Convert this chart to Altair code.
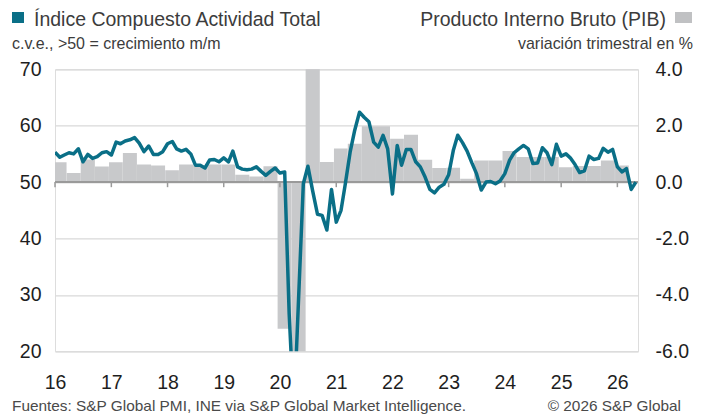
import altair as alt
import pandas as pd

# ---------------- data ----------------
years = list(range(2016, 2027))

pmi_2016 = [55.3, 54.4, 54.8, 55.2, 55.0, 55.9, 53.6, 54.9, 54.2, 54.5, 55.2, 55.4]
pmi_2017 = [54.8, 57.1, 56.8, 57.3, 57.5, 57.9, 56.9, 55.4, 56.4, 54.9, 54.9, 55.4]
pmi_2018 = [56.8, 57.2, 55.9, 55.5, 55.8, 55.0, 53.0, 53.0, 52.5, 53.9, 54.0, 53.6]
pmi_2019 = [54.3, 53.6, 55.5, 52.7, 52.3, 52.2, 52.3, 52.7, 51.9, 51.2, 51.9, 52.5]
pmi_2020 = [51.6, 51.8, 26.7, 9.2, 29.2, 49.7, 52.8, 48.4, 44.3, 44.1, 41.5, 48.7]
pmi_2021 = [42.9, 45.0, 49.7, 55.3, 59.2, 62.4, 61.5, 60.7, 57.1, 56.2, 58.3, 55.9]
pmi_2022 = [47.9, 56.5, 53.0, 55.8, 55.8, 53.6, 52.7, 50.9, 48.7, 48.1, 49.1, 49.6]
pmi_2023 = [51.3, 55.7, 58.3, 57.0, 55.5, 53.4, 51.5, 48.6, 50.0, 50.1, 49.7, 50.2]
pmi_2024 = [51.5, 53.9, 55.2, 55.9, 56.5, 55.9, 53.3, 53.4, 56.1, 55.2, 53.1, 56.7]
pmi_2025 = [54.6, 55.0, 54.3, 53.1, 51.7, 52.0, 54.6, 54.0, 54.2, 56.0, 55.3, 55.8]
pmi_2026 = [52.7, 51.8, 52.4, 48.7, 50.0]

gdp_2016 = [0.70, 0.32, 0.80, 0.55]
gdp_2017 = [0.70, 1.03, 0.62, 0.59]
gdp_2018 = [0.42, 0.62, 0.58, 0.62]
gdp_2019 = [0.62, 0.26, 0.20, 0.56]
gdp_2020 = [-5.2, -17.8, 17.1, 0.71]
gdp_2021 = [1.19, 1.36, 1.98, 1.98]
gdp_2022 = [1.54, 1.68, 0.79, 0.50]
gdp_2023 = [0.51, 0.12, 0.77, 0.77]
gdp_2024 = [1.10, 0.89, 0.89, 0.89]
gdp_2025 = [0.53, 0.57, 0.57, 0.77]
gdp_2026 = [0.59]

left_ticks = [20, 30, 40, 50, 60, 70]
right_ticks = [-6, -4, -2, 0, 2, 4]

title_left = "Índice Compuesto Actividad Total"
subtitle_left = "c.v.e., >50 = crecimiento m/m"
title_right = "Producto Interno Bruto (PIB)"
subtitle_right = "variación trimestral en %"
footer_left = "Fuentes: S&P Global PMI, INE via S&P Global Market Intelligence."
footer_right = "© 2026 S&P Global"

# ---------------- tables ----------------
pmi = (pmi_2016 + pmi_2017 + pmi_2018 + pmi_2019 + pmi_2020 + pmi_2021 +
       pmi_2022 + pmi_2023 + pmi_2024 + pmi_2025 + pmi_2026)
months = pd.date_range("2016-01-01", periods=len(pmi), freq="MS")
df_pmi = pd.DataFrame({"date": months.strftime("%Y-%m-%d"), "pmi": pmi})

gdp = (gdp_2016 + gdp_2017 + gdp_2018 + gdp_2019 + gdp_2020 + gdp_2021 +
       gdp_2022 + gdp_2023 + gdp_2024 + gdp_2025 + gdp_2026)
qs = pd.date_range("2016-01-01", periods=len(gdp), freq="QS")
q_start = qs - pd.Timedelta(days=15)
q_end = qs + pd.DateOffset(months=2) + pd.Timedelta(days=15)
df_gdp = pd.DataFrame({
    "start": q_start.strftime("%Y-%m-%d"),
    "end": q_end.strftime("%Y-%m-%d"),
    "gdp": gdp,
})

df_years = pd.DataFrame({"date": [f"{y}-01-01" for y in years]})

# ---------------- style ----------------
FONT = "Liberation Sans"
TEAL = "#0a6f87"
GREY = "#c8c9cb"
W, H = 583, 282
OX, OY = 55, 69.3   # absolute position of plot origin (incl. 8px page margin)

x_scale = alt.Scale(type="utc",
                    domain=[alt.DateTime(year=2016, month=1, date=1, utc=True),
                            alt.DateTime(year=2026, month=5, date=15, utc=True)])
x_axis = alt.Axis(values=[alt.DateTime(year=y, month=1, date=1, utc=True) for y in years],
                  labelExpr="utcFormat(datum.value, '%y')",
                  grid=False, domain=False, ticks=False, tickSize=0,
                  labelFontSize=19.5, labelFont=FONT, labelColor="#1e1e1e",
                  labelPadding=22, title=None, labelFlush=False)

left_scale = alt.Scale(domain=[20, 70], nice=False, zero=False)
right_scale = alt.Scale(domain=[-6, 4], nice=False, zero=False)

bars = alt.Chart(df_gdp).mark_rect(color=GREY, clip=True).encode(
    x=alt.X("start:T", scale=x_scale, axis=x_axis),
    x2="end:T",
    y=alt.Y("gdp:Q", scale=right_scale,
            axis=alt.Axis(orient="right", values=right_ticks, grid=False,
                          domain=False, ticks=False,
                          labelExpr="(datum.value < 0 ? '-' : '') + format(abs(datum.value), '.1f')",
                          labelFontSize=19.5, labelFont=FONT, labelColor="#1e1e1e",
                          labelPadding=17, title=None)),
    y2=alt.datum(0),
)

zero_line = alt.Chart(df_years).mark_rule(color="#9a9a9a", strokeWidth=1.5).encode(
    y=alt.Y(datum=50, scale=left_scale, axis=None),
)

year_ticks = alt.Chart(df_years).mark_rule(color="#9a9a9a", strokeWidth=1.5).encode(
    x=alt.X("date:T", scale=x_scale, axis=x_axis),
    y=alt.Y(datum=50, scale=left_scale, axis=None),
    y2=alt.datum(49.1),
)

line = alt.Chart(df_pmi).mark_line(color=TEAL, strokeWidth=3.5, clip=True,
                                   strokeJoin="round").encode(
    x=alt.X("date:T", scale=x_scale, axis=x_axis),
    y=alt.Y("pmi:Q", scale=left_scale,
            axis=alt.Axis(orient="left", values=left_ticks, grid=True,
                          gridColor="#d9d9d9", gridWidth=1.3,
                          domain=False, ticks=False,
                          labelFontSize=19.5, labelFont=FONT, labelColor="#1e1e1e",
                          labelPadding=14, title=None)),
)


def text_layer(txt, x_abs, y_abs, size, align="left", color="#3c3c3c"):
    return alt.Chart(pd.DataFrame({"t": [txt]})).mark_text(
        align=align, baseline="alphabetic", fontSize=size, font=FONT, color=color
    ).encode(x=alt.value(x_abs - OX), y=alt.value(y_abs - OY), text="t:N")


def square(x0, x1, y0, y1, color):
    return alt.Chart(pd.DataFrame({"t": [1]})).mark_rect(color=color).encode(
        x=alt.value(x0 - OX), x2=alt.value(x1 - OX),
        y=alt.value(y0 - OY), y2=alt.value(y1 - OY))


texts = [
    square(12, 24, 12, 23, TEAL),
    text_layer(title_left, 34, 26, 19.5),
    text_layer(subtitle_left, 12, 49, 16),
    square(675, 692, 12, 23, "#c0c1c3"),
    text_layer(title_right, 666, 26, 19.5, align="right"),
    text_layer(subtitle_right, 693, 49, 16, align="right"),
    text_layer(footer_left, 12, 411, 15.4, color="#4a4a4a"),
    text_layer(footer_right, 681, 411, 15.4, align="right", color="#4a4a4a"),
]

chart = alt.layer(bars, zero_line, year_ticks, line, *texts).resolve_scale(
    y="independent"
).properties(
    width=W, height=H,
    autosize=alt.AutoSizeParams(type="none"),
    padding={"left": OX - 8, "top": OY - 8, "right": 62, "bottom": 66},
).configure_view(stroke=None).configure(background="white")

chart.save("out.html", embed_options={"renderer": "svg", "actions": False})
